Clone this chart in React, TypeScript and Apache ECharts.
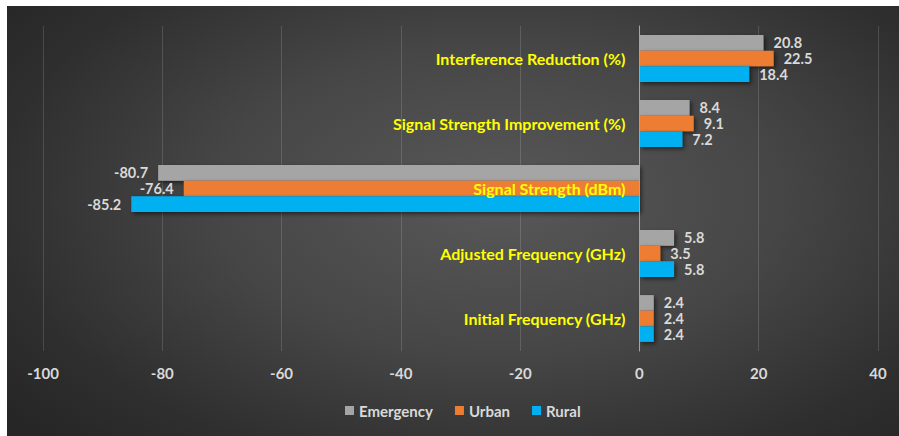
import React, { useEffect, useRef } from "react";
import * as echarts from "echarts";

// Metrics shown on the category axis (bottom to top)
const categories = [
  "Initial Frequency (GHz)",
  "Adjusted Frequency (GHz)",
  "Signal Strength (dBm)",
  "Signal Strength Improvement (%)",
  "Interference Reduction (%)",
];

const emergency = [2.4, 5.8, -80.7, 8.4, 20.8];
const urban = [2.4, 3.5, -76.4, 9.1, 22.5];
const rural = [2.4, 5.8, -85.2, 7.2, 18.4];

const legendOrder = ["Emergency", "Urban", "Rural"];
const xTicks = { min: -100, max: 40, interval: 20 };

const FONT = "Lato";
const TEXT = "#d9d9d9";

const W = 892;
const H = 430;
const GRID = { left: 36, right: 21, top: 20, bottom: 85 };
// pixel position of value 0 inside the grid, used to place the category axis there
const zeroOffset =
  ((0 - xTicks.min) / (xTicks.max - xTicks.min)) * (W - GRID.left - GRID.right);

function barSeries(name: string, values: number[], color: string) {
  return {
    name,
    type: "bar",
    barGap: "0%",
    barCategoryGap: "28%",
    itemStyle: {
      color,
      shadowColor: "rgba(0,0,0,0.55)",
      shadowBlur: 4,
      shadowOffsetX: 2,
      shadowOffsetY: 2,
    },
    data: values.map((v) => ({
      value: v,
      label: { position: v < 0 ? "left" : "right" },
    })),
    label: {
      show: true,
      distance: 10,
      color: TEXT,
      fontFamily: FONT,
      fontWeight: "bold",
      fontSize: 14.5,
      lineHeight: 14,
      formatter: (p: any) => String(p.value),
    },
    z: 3,
  };
}

export default function App() {
  const ref = useRef<HTMLDivElement>(null);

  useEffect(() => {
    if (!ref.current) return;
    const chart = echarts.init(ref.current, undefined, { renderer: "svg" });
    chart.setOption({
      animation: false,
      backgroundColor: "transparent",
      grid: { ...GRID, containLabel: false, outerBoundsMode: "none" },
      legend: {
        data: legendOrder,
        top: 392,
        left: 333,
        itemWidth: 9,
        itemHeight: 9,
        itemGap: 22,
        icon: "rect",
        textStyle: {
          color: TEXT,
          fontFamily: FONT,
          fontWeight: "bold",
          fontSize: 15,
        },
      },
      xAxis: {
        type: "value",
        min: xTicks.min,
        max: xTicks.max,
        interval: xTicks.interval,
        axisLine: { show: false },
        axisTick: { show: false },
        splitLine: { lineStyle: { color: "rgba(255,255,255,0.14)", width: 1 } },
        axisLabel: {
          color: TEXT,
          fontFamily: FONT,
          fontWeight: "bold",
          fontSize: 15,
          margin: 14,
        },
      },
      yAxis: {
        type: "category",
        data: categories,
        position: "left",
        offset: -zeroOffset,
        z: 10,
        axisLine: { show: true, onZero: false, lineStyle: { color: "#a6a6a6", width: 1 } },
        axisTick: { show: false },
        axisLabel: {
          color: "#ffff00",
          fontFamily: FONT,
          fontWeight: "bold",
          fontSize: 16,
          margin: 14,
        },
      },
      series: [
        barSeries("Emergency", emergency, "#a5a5a5"),
        barSeries("Urban", urban, "#ed7d31"),
        barSeries("Rural", rural, "#00b0f0"),
      ],
    });
    return () => chart.dispose();
  }, []);

  return (
    <div
      style={{
        position: "absolute",
        left: 7,
        top: 6,
        width: W,
        height: H,
        background:
          "radial-gradient(ellipse 70% 80% at 55% 45%, #585858 0%, #464646 45%, #2f2f2f 80%, #262626 100%)",
      }}
    >
      <div ref={ref} style={{ width: W, height: H }} />
    </div>
  );
}
